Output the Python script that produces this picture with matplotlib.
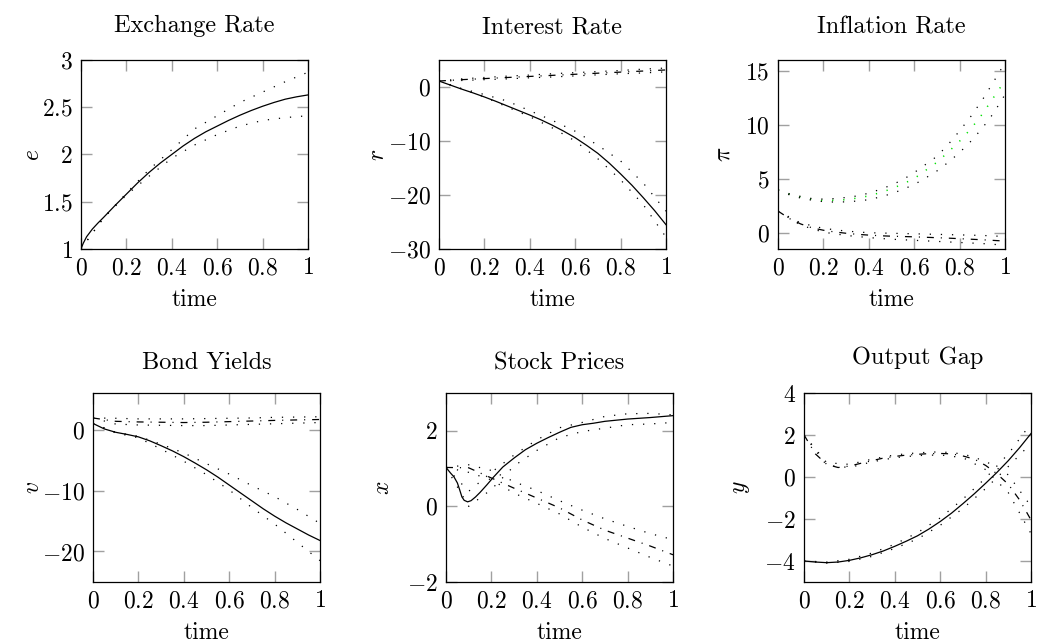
import matplotlib
matplotlib.use("Agg")
import matplotlib.pyplot as plt
from matplotlib.ticker import FuncFormatter

plt.rcParams['font.family'] = 'serif'
plt.rcParams['font.serif'] = ['cmr10']
plt.rcParams['mathtext.fontset'] = 'cm'
plt.rcParams['axes.formatter.use_mathtext'] = True
plt.rcParams['lines.scale_dashes'] = False

# ====== dados ======
t21 = [0, 0.05, 0.1, 0.15, 0.2, 0.25, 0.3, 0.35, 0.4, 0.45, 0.5,
       0.55, 0.6, 0.65, 0.7, 0.75, 0.8, 0.85, 0.9, 0.95, 1.0]
t11 = [0, 0.1, 0.2, 0.3, 0.4, 0.5, 0.6, 0.7, 0.8, 0.9, 1.0]
xticks = [0, 0.2, 0.4, 0.6, 0.8, 1]

# Exchange Rate
t_e = [0, 0.01, 0.025, 0.05, 0.075, 0.1, 0.15, 0.2, 0.25, 0.3, 0.35, 0.4, 0.45, 0.5,
       0.55, 0.6, 0.65, 0.7, 0.75, 0.8, 0.85, 0.9, 0.95, 1.0]
e_mean = [1.00, 1.06, 1.13, 1.21, 1.275, 1.335, 1.46, 1.58, 1.70, 1.81, 1.91, 2.00, 2.09, 2.17,
          2.24, 2.30, 2.36, 2.415, 2.465, 2.51, 2.55, 2.585, 2.61, 2.63]
e_up = [1.00, 1.33, 1.59, 1.84, 2.05, 2.27, 2.41, 2.55, 2.66, 2.77, 2.87]
e_lo = [1.00, 1.33, 1.57, 1.77, 1.96, 2.10, 2.21, 2.30, 2.36, 2.39, 2.41]

# Interest Rate
r_mean = [1.1, 0.35, -0.4, -1.1, -1.85, -2.65, -3.5, -4.35, -5.2, -6.1, -7.1,
          -8.2, -9.4, -10.8, -12.3, -14.1, -16.1, -18.2, -20.5, -22.9, -25.5]
r_up = [1.1, -0.3, -1.4, -2.6, -4.4, -6.2, -8.2, -10.8, -13.7, -17.8, -23.0]
r_lo = [1.1, -0.35, -1.85, -3.7, -5.5, -7.6, -10.0, -13.3, -17.2, -21.8, -27.8]
r_alt = [1.1, 1.35, 1.55, 1.75, 1.95, 2.15, 2.35, 2.55, 2.75, 2.95, 3.15]
r_alt_up = [1.1, 1.5, 1.75, 2.0, 2.2, 2.45, 2.65, 2.85, 3.05, 3.3, 3.5]
r_alt_lo = [1.1, 1.2, 1.35, 1.5, 1.7, 1.85, 2.05, 2.25, 2.45, 2.6, 2.8]

# Inflation Rate
pi_mean = [4.0, 3.6, 3.33, 3.12, 3.02, 3.05, 3.1, 3.25, 3.45, 3.75, 4.1,
           4.55, 5.05, 5.8, 6.55, 7.5, 8.5, 9.65, 11.0, 12.55, 14.1]
pi_up = [4.0, 3.65, 3.4, 3.2, 3.15, 3.2, 3.3, 3.45, 3.7, 4.05, 4.45,
         4.95, 5.6, 6.35, 7.1, 8.2, 9.45, 10.8, 12.3, 14.0, 15.75]
pi_lo = [4.0, 3.55, 3.25, 3.05, 2.92, 2.88, 2.9, 2.98, 3.1, 3.35, 3.65,
         4.05, 4.5, 5.1, 5.75, 6.55, 7.45, 8.5, 9.7, 11.1, 12.8]
pi_alt = [2.05, 1.36, 0.86, 0.5, 0.28, 0.12, 0.0, -0.1, -0.17, -0.23, -0.27,
          -0.3, -0.33, -0.37, -0.41, -0.45, -0.5, -0.55, -0.6, -0.66, -0.72]
pi_alt_up = [2.05, 0.95, 0.45, 0.2, 0.05, 0.0, -0.05, -0.1, -0.15, -0.2, -0.3]
pi_alt_lo = [2.05, 0.75, 0.1, -0.2, -0.4, -0.55, -0.65, -0.75, -0.85, -0.95, -1.1]

# Bond Yields
v_mean = [1.0, 0.1, -0.45, -0.8, -1.2, -1.85, -2.65, -3.5, -4.45, -5.5, -6.6,
          -7.8, -9.1, -10.4, -11.7, -13.0, -14.2, -15.3, -16.3, -17.3, -18.2]
v_up = [1.0, -0.45, -1.1, -2.4, -3.85, -5.6, -7.3, -9.2, -11.0, -13.1, -15.4]
v_lo = [1.0, -0.55, -1.35, -3.2, -5.2, -7.4, -9.9, -12.8, -15.5, -18.5, -21.5]
v_alt = [1.9, 1.35, 1.25, 1.2, 1.15, 1.2, 1.3, 1.4, 1.5, 1.58, 1.65]
v_alt_up = [1.9, 1.85, 1.75, 1.75, 1.75, 1.8, 1.85, 1.9, 2.0, 2.05, 2.1]
v_alt_lo = [1.9, 0.9, 0.75, 0.7, 0.65, 0.65, 0.75, 0.85, 0.95, 1.05, 1.15]

# Stock Prices
t_x = [0, 0.02, 0.035, 0.05, 0.06, 0.07, 0.08, 0.095, 0.11, 0.13, 0.15, 0.18,
       0.21, 0.25, 0.3, 0.35, 0.4, 0.45, 0.5, 0.55, 0.6, 0.65, 0.7, 0.8, 0.9, 1.0]
x_mean = [1.03, 0.88, 0.78, 0.62, 0.44, 0.25, 0.16, 0.12, 0.15, 0.25, 0.37, 0.57,
          0.78, 1.04, 1.28, 1.50, 1.67, 1.82, 1.96, 2.09, 2.16, 2.20, 2.25, 2.31, 2.35, 2.40]
x_up = [1.03, 0.4, 0.9, 1.36, 1.76, 2.08, 2.22, 2.38, 2.45, 2.46, 2.42]
x_lo = [1.03, 0.0, 0.45, 1.07, 1.48, 1.82, 1.98, 2.07, 2.16, 2.18, 2.22]
x_alt = [1.03, 1.02, 0.75, 0.48, 0.22, -0.04, -0.36, -0.63, -0.84, -1.05, -1.28]
x_alt_up = [1.03, 1.1, 0.95, 0.65, 0.42, 0.15, -0.1, -0.33, -0.53, -0.72, -0.88]
x_alt_lo = [1.03, 0.9, 0.7, 0.35, 0.08, -0.2, -0.55, -0.85, -1.1, -1.35, -1.58]

# Output Gap
y_mean = [-4.0, -4.05, -4.08, -4.05, -3.97, -3.85, -3.7, -3.52, -3.3, -3.06, -2.8,
          -2.48, -2.12, -1.72, -1.27, -0.8, -0.3, 0.22, 0.78, 1.4, 2.07]
y_up = [-4.0, -4.05, -3.92, -3.62, -3.2, -2.65, -1.95, -1.05, -0.05, 1.1, 2.55]
y_lo = [-4.0, -4.1, -4.02, -3.78, -3.4, -2.95, -2.3, -1.5, -0.55, 0.5, 1.6]
y_alt = [2.0, 1.1, 0.6, 0.45, 0.52, 0.65, 0.78, 0.9, 0.98, 1.04, 1.08,
         1.11, 1.12, 1.1, 1.0, 0.85, 0.55, 0.15, -0.35, -1.1, -2.05]
y_alt_up = [2.0, 0.68, 0.6, 0.85, 1.05, 1.15, 1.2, 1.1, 0.75, 0.1, -1.4]
y_alt_lo = [2.0, 0.55, 0.45, 0.72, 0.92, 1.02, 1.05, 0.92, 0.35, -0.75, -2.7]

# ====== estilos ======
dotted = (0, (0.9, 7.1))
dashdot = (0, (5, 5, 0.8, 5))

fig = plt.figure(figsize=(10.38, 6.44), dpi=100)

# [left, bottom, width, height], ylim, yticks, titulo, ylabel, pos ylabel, pad titulo
panels = [
    ([0.0780, 0.6134, 0.2187, 0.2935], (1, 3), [1, 1.5, 2, 2.5, 3], 'Exchange Rate', '$e$', -0.21, 20),
    ([0.4229, 0.6134, 0.2187, 0.2935], (-30, 5), [-30, -20, -10, 0], 'Interest Rate', '$r$', -0.27, 19),
    ([0.7495, 0.6134, 0.2187, 0.2935], (-1.45, 16), [0, 5, 10, 15], 'Inflation Rate', r'$\pi$', -0.24, 19),
    ([0.0896, 0.0963, 0.2187, 0.2935], (-25, 6), [-20, -10, 0], 'Bond Yields', '$v$', -0.265, 17),
    ([0.4297, 0.0963, 0.2187, 0.2935], (-2, 3), [-2, 0, 2], 'Stock Prices', '$x$', -0.28, 17),
    ([0.7746, 0.0963, 0.2187, 0.2935], (-5, 4), [-4, -2, 0, 2, 4], 'Output Gap', '$y$', -0.28, 21),
]

axes = []
for rect, ylim, yt, title, ylab, ylx, tpad in panels:
    ax = fig.add_axes(rect)
    ax.set_xlim(0, 1)
    ax.set_ylim(*ylim)
    ax.set_xticks(xticks)
    ax.set_yticks(yt)
    fmt = FuncFormatter(lambda v, p: f'${v:g}$')
    ax.xaxis.set_major_formatter(fmt)
    ax.yaxis.set_major_formatter(fmt)
    ax.tick_params(direction='in', top=True, right=True, length=8, width=1.0,
                   color='#a0a0a0', labelsize=17, pad=6)
    for s in ax.spines.values():
        s.set_linewidth(0.9)
    ax.set_title(title, fontsize=17.5, pad=tpad)
    ax.set_xlabel('time', fontsize=17, va='baseline')
    ax.xaxis.set_label_coords(0.5, -0.30)
    ax.set_ylabel(ylab, fontsize=17, va='center')
    ax.yaxis.set_label_coords(ylx, 0.5)
    axes.append(ax)

lw = 0.9
dlw = 0.9

ax = axes[0]
ax.plot(t_e, e_mean, color='black', lw=lw)
ax.plot(t11, e_up, color='black', lw=dlw, ls=dotted)
ax.plot(t11, e_lo, color='black', lw=dlw, ls=dotted)

ax = axes[1]
ax.plot(t21, r_mean, color='black', lw=lw)
ax.plot(t11, r_up, color='black', lw=dlw, ls=dotted)
ax.plot(t11, r_lo, color='black', lw=dlw, ls=dotted)
ax.plot(t11, r_alt, color='black', lw=lw, ls=dashdot)
ax.plot(t11, r_alt_up, color='black', lw=dlw, ls=dotted)
ax.plot(t11, r_alt_lo, color='black', lw=dlw, ls=dotted)

ax = axes[2]
ax.plot(t21, pi_mean, color='#00e000', lw=1.1, ls=dotted)
ax.plot(t21, pi_up, color='black', lw=dlw, ls=dotted)
ax.plot(t21, pi_lo, color='black', lw=dlw, ls=dotted)
ax.plot(t21, pi_alt, color='black', lw=lw, ls=dashdot)
ax.plot(t11, pi_alt_up, color='black', lw=dlw, ls=dotted)
ax.plot(t11, pi_alt_lo, color='black', lw=dlw, ls=dotted)

ax = axes[3]
ax.plot(t21, v_mean, color='black', lw=lw)
ax.plot(t11, v_up, color='black', lw=dlw, ls=dotted)
ax.plot(t11, v_lo, color='black', lw=dlw, ls=dotted)
ax.plot(t11, v_alt, color='black', lw=lw, ls=dashdot)
ax.plot(t11, v_alt_up, color='black', lw=dlw, ls=dotted)
ax.plot(t11, v_alt_lo, color='black', lw=dlw, ls=dotted)

ax = axes[4]
ax.plot(t_x, x_mean, color='black', lw=lw)
ax.plot(t11, x_up, color='black', lw=dlw, ls=dotted)
ax.plot(t11, x_lo, color='black', lw=dlw, ls=dotted)
ax.plot(t11, x_alt, color='black', lw=lw, ls=dashdot)
ax.plot(t11, x_alt_up, color='black', lw=dlw, ls=dotted)
ax.plot(t11, x_alt_lo, color='black', lw=dlw, ls=dotted)

ax = axes[5]
ax.plot(t21, y_mean, color='black', lw=lw)
ax.plot(t11, y_up, color='black', lw=dlw, ls=dotted)
ax.plot(t11, y_lo, color='black', lw=dlw, ls=dotted)
ax.plot(t21, y_alt, color='black', lw=lw, ls=dashdot)
ax.plot(t11, y_alt_up, color='black', lw=dlw, ls=dotted)
ax.plot(t11, y_alt_lo, color='black', lw=dlw, ls=dotted)

fig.savefig('out.png', dpi=100)
